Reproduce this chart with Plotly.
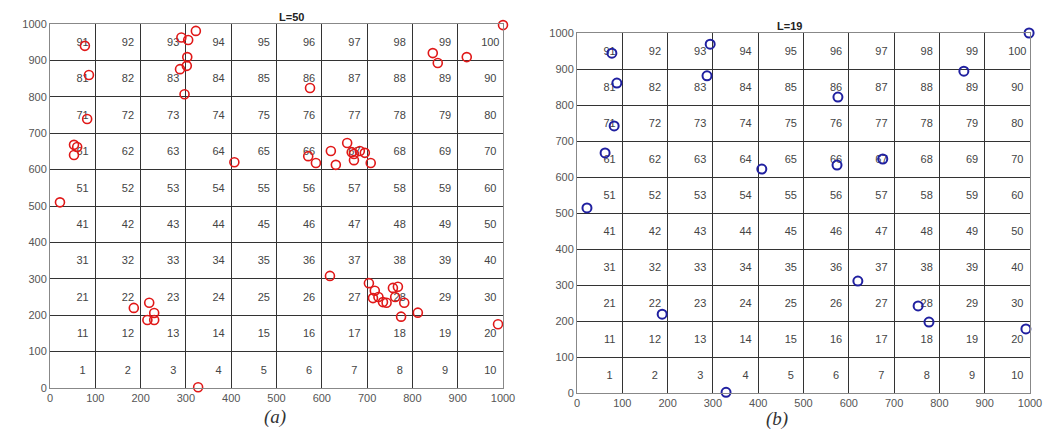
import plotly.graph_objects as go

# ---- data ----
red_x = [77, 86, 82, 53, 60, 53, 22, 290, 305, 322, 303, 302, 287, 297, 407,
         1000, 845, 856, 920, 574, 570, 587, 620, 631, 656, 671, 684, 671, 695, 708, 666,
         185, 219, 230, 215, 230, 327,
         618, 704, 717, 713, 735, 743, 757, 768, 762, 782, 775, 812, 989, 725]
red_y = [940, 860, 739, 668, 662, 640, 510, 963, 956, 981, 909, 885, 876, 807, 620,
         997, 920, 893, 909, 824, 637, 618, 651, 613, 673, 643, 651, 626, 646, 618, 648,
         220, 234, 206, 187, 187, 2,
         308, 288, 267, 247, 236, 234, 275, 278, 250, 234, 196, 207, 175, 250]

blue_x = [77, 88, 82, 62, 22, 294, 287, 408, 998, 854, 576, 574, 675, 188, 329, 620, 753, 777, 991]
blue_y = [944, 861, 742, 667, 514, 969, 881, 622, 1000, 894, 822, 633, 650, 219, 2, 311, 242, 197, 178]

titles = ["L=50", "L=19"]
captions = ["(a)", "(b)"]
tick_vals = list(range(0, 1001, 100))
cell_numbers = list(range(1, 101))

# ---- figure ----
fig = go.Figure()

# cell number labels
lab_x = [((n - 1) % 10) * 100 + 72 for n in cell_numbers]
lab_y = [((n - 1) // 10) * 100 + 47 for n in cell_numbers]
lab_t = [str(n) for n in cell_numbers]
for ax in ["", "2"]:
    fig.add_trace(go.Scatter(x=lab_x, y=lab_y, text=lab_t, mode="text",
                             textfont=dict(family="Liberation Sans, Arial", size=11, color="#444"),
                             xaxis="x" + ax, yaxis="y" + ax, showlegend=False,
                             hoverinfo="skip"))

fig.add_trace(go.Scatter(x=red_x, y=red_y, mode="markers", cliponaxis=False,
                         marker=dict(symbol="circle-open", size=9, color="#e01818",
                                     line=dict(width=1.6, color="#e01818")),
                         showlegend=False))
fig.add_trace(go.Scatter(x=blue_x, y=blue_y, mode="markers", cliponaxis=False,
                         xaxis="x2", yaxis="y2",
                         marker=dict(symbol="circle-open", size=9, color="#2020a0",
                                     line=dict(width=2, color="#2020a0")),
                         showlegend=False))

# page body has an 8px margin; shrink the figure so it fits the window
OFF = 8
W, H = 1053 - 2 * OFF, 441 - 2 * OFF


def fx(px):
    return (px - OFF) / W


def fy(py):
    return 1 - (py - OFF) / H


dom = {
    "": dict(x=[fx(50), fx(503)], y=[fy(388), fy(24)]),
    "2": dict(x=[fx(577), fx(1030)], y=[fy(393), fy(33)]),
}

axis_common = dict(range=[0, 1000], tickvals=tick_vals, showgrid=True,
                   gridcolor="#333", gridwidth=1, zeroline=False,
                   showline=True, linecolor="#888", linewidth=1, mirror=True,
                   ticks="", automargin=False,
                   tickfont=dict(family="Liberation Sans, Arial", size=11, color="#555"),
                   fixedrange=True)

layout = dict(width=W, height=H, margin=dict(l=0, r=0, t=0, b=0),
              plot_bgcolor="white", paper_bgcolor="white", showlegend=False)
for i, ax in enumerate(["", "2"]):
    layout["xaxis" + ax] = dict(axis_common, domain=dom[ax]["x"],
                                anchor="y" + ax)
    layout["yaxis" + ax] = dict(axis_common, domain=dom[ax]["y"],
                                anchor="x" + ax)
fig.update_layout(**layout)

ann = []
for i, ax in enumerate(["", "2"]):
    xd = dom[ax]["x"]
    yd = dom[ax]["y"]
    ann.append(dict(text="<b>" + titles[i] + "</b>", xref="paper", yref="paper",
                    x=(xd[0] + xd[1]) / 2, y=yd[1], yanchor="bottom", yshift=-1,
                    showarrow=False,
                    font=dict(family="Liberation Sans, Arial", size=11, color="#222")))
cap_pos = [(fx(262), fy(430)), (fx(790), fy(432))]
for i in range(2):
    ann.append(dict(text="<i>" + captions[i] + "</i>", xref="paper", yref="paper",
                    x=cap_pos[i][0], y=cap_pos[i][1], showarrow=False,
                    font=dict(family="Liberation Serif, Times New Roman", size=19, color="#333")))
fig.update_layout(annotations=ann)

fig.write_html("out.html")
